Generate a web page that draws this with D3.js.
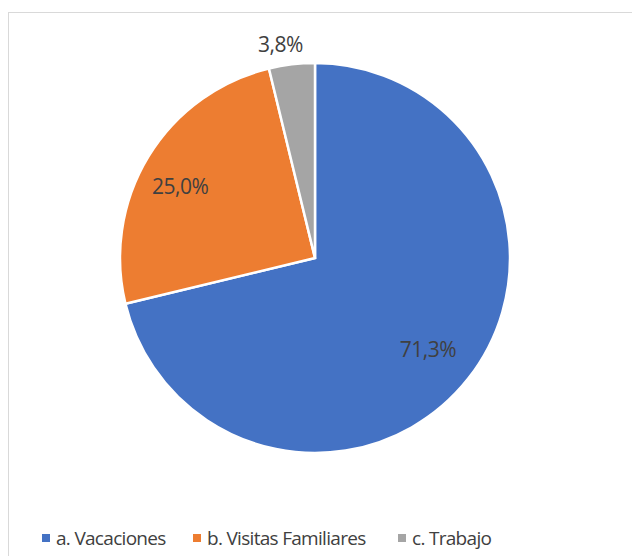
<!DOCTYPE html>
<meta charset="utf-8">
<style>
body { margin: 0; background: #fff; }
text { font-family: "Open Sans", "Noto Sans", sans-serif; fill: #404040; }
</style>
<svg width="632" height="556"></svg>
<script src="https://d3js.org/d3.v7.min.js"></script>
<script>

  var categories = ["a. Vacaciones", "b. Visitas Familiares", "c. Trabajo"];
  var values = [71.3, 25.0, 3.8];
  var labels = ["71,3%", "25,0%", "3,8%"];
  var colors = ["#4472c4", "#ed7d31", "#a5a5a5"];

  var svg = d3.select("svg"),
      cx = 315, cy = 258, radius = 195;

  // chart area border (cut off on the right and bottom)
  svg.append("rect")
    .attr("x", 8.5).attr("y", 12.5)
    .attr("width", 700).attr("height", 700)
    .attr("fill", "none")
    .attr("stroke", "#d9d9d9");

  var data = categories.map(function(c, i) {
    return { name: c, value: values[i], label: labels[i], color: colors[i] };
  });

  var pie = d3.pie().sort(null).value(function(d) { return d.value; });
  var arc = d3.arc().innerRadius(0).outerRadius(radius);

  var g = svg.append("g").attr("transform", "translate(" + cx + "," + cy + ")");

  var arcs = pie(data);

  g.selectAll("path")
    .data(arcs)
    .enter().append("path")
    .attr("d", arc)
    .attr("fill", function(d) { return d.data.color; })
    .attr("stroke", "#fff")
    .attr("stroke-width", 2.5);

  // labels: inside for big slices, outside for the small one
  var labelR = [0.75, 0.78, 1.1];
  var nudge = [[-2, 1], [-5, 8], [-9, 0]];
  g.selectAll(".lbl")
    .data(arcs)
    .enter().append("text")
    .attr("class", "lbl")
    .attr("transform", function(d, i) {
      var a = (d.startAngle + d.endAngle) / 2, r = radius * labelR[i];
      var x = Math.sin(a) * r + nudge[i][0], y = -Math.cos(a) * r + nudge[i][1];
      return "translate(" + x + "," + y + ")";
    })
    .attr("text-anchor", "middle")
    .attr("dy", "0.35em")
    .style("font-size", "21px")
    .style("letter-spacing", "-0.5px")
    .text(function(d) { return d.data.label; });

  // legend
  var legendX = [42, 193, 398];
  var legend = svg.selectAll(".legend")
    .data(data)
    .enter().append("g")
    .attr("class", "legend")
    .attr("transform", function(d, i) { return "translate(" + legendX[i] + ",538)"; });

  legend.append("rect")
    .attr("x", 0).attr("y", -4)
    .attr("width", 8).attr("height", 8)
    .attr("fill", function(d) { return d.color; });

  legend.append("text")
    .attr("x", 14)
    .attr("dy", "0.35em")
    .style("font-size", "19px")
    .style("letter-spacing", "-0.7px")
    .text(function(d) { return d.name; });
</script>
